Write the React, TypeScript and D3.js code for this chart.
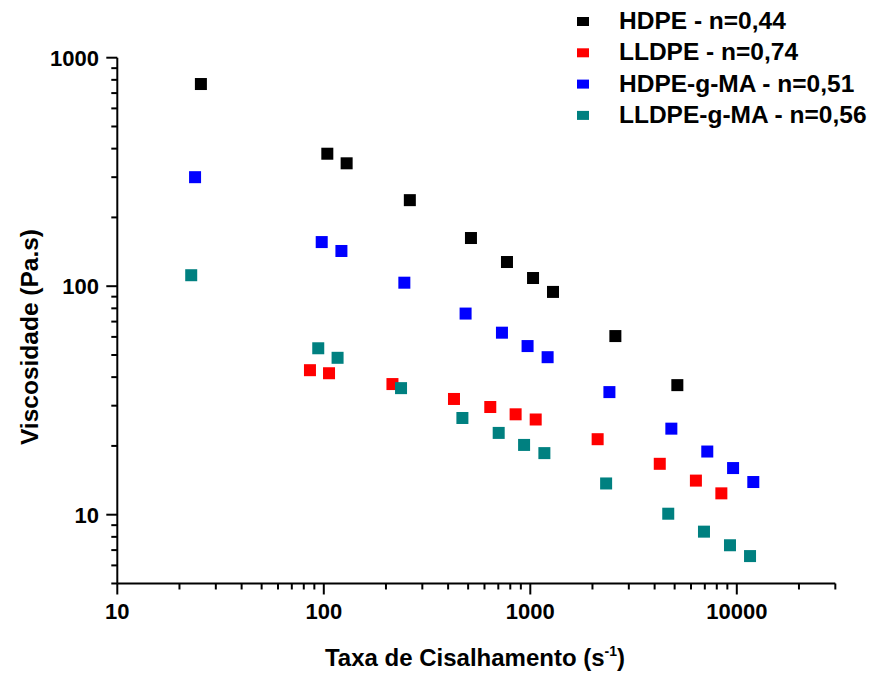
import React from "react";
import * as d3 from "d3";

const hdpeX = [25.4, 104, 129, 261, 516, 771, 1031, 1288, 2582, 5153];
const hdpeY = [767, 380, 345, 238, 162.5, 127.6, 108.6, 94.4, 60.5, 36.9];

const lldpeX = [85.7, 106, 215, 427, 640, 849, 1062, 2119, 4236, 6338, 8418];
const lldpeY = [42.9, 41.6, 37.3, 32.1, 29.6, 27.5, 26.1, 21.4, 16.7, 14.1, 12.4];

const hdpeMaX = [23.8, 97.7, 121.7, 245.5, 486, 729, 970, 1213, 2416, 4820, 7195, 9594, 12020];
const hdpeMaY = [300, 156, 142.6, 103.6, 75.9, 62.6, 54.7, 48.9, 34.4, 23.8, 18.9, 16.0, 13.9];

const lldpeMaX = [22.8, 94, 116.6, 236.6, 469, 703, 933, 1170, 2329, 4656, 6935, 9268, 11590];
const lldpeMaY = [111.7, 53.5, 48.6, 35.8, 26.5, 22.8, 20.2, 18.6, 13.7, 10.1, 8.43, 7.35, 6.59];

const seriesNames = ["HDPE - n=0,44", "LLDPE - n=0,74", "HDPE-g-MA - n=0,51", "LLDPE-g-MA - n=0,56"];
const seriesColors = ["#000000", "#ff0000", "#0000ff", "#008080"];

const xMajorTicks = [10, 100, 1000, 10000];
const yMajorTicks = [10, 100, 1000];

const xTitle = "Taxa de Cisalhamento (s";
const xTitleSup = "-1";
const yTitle = "Viscosidade (Pa.s)";

export default function App() {
  const W = 873, H = 673;
  const x0 = 117.3, dx = 206.5;
  const y0 = 57.7, dy = 228.5;
  const x = d3.scaleLog().domain([10, 30000]).range([x0, x0 + dx * Math.log10(3000)]);
  const y = d3.scaleLog().domain([5, 1000]).range([y0 + dy * Math.log10(200), y0]);

  const series = [
    { xs: hdpeX, ys: hdpeY },
    { xs: lldpeX, ys: lldpeY },
    { xs: hdpeMaX, ys: hdpeMaY },
    { xs: lldpeMaX, ys: lldpeMaY },
  ];

  const xMinor: number[] = [];
  for (const d of [10, 100, 1000, 10000]) for (let k = 2; k <= 9; k++) if (d * k <= 30000) xMinor.push(d * k);
  const yMinor: number[] = [];
  for (const d of [1, 10, 100]) for (let k = 2; k <= 9; k++) { const v = d * k; if (v >= 5 && v < 1000) yMinor.push(v); }

  const [xa, xb] = x.range();
  const [yb, ya] = y.range();
  const font = "'Liberation Sans', Arial, Helvetica, sans-serif";
  const ms = 12;

  return (
    <svg width={W} height={H} style={{ position: "absolute", left: 0, top: 0, background: "#fff" }} fontFamily={font}>
      <rect x={0} y={0} width={W} height={H} fill="#fff" />
      {/* axes */}
      <line x1={xa} x2={xb} y1={yb} y2={yb} stroke="#000" strokeWidth={2} />
      <line x1={xa} x2={xa} y1={ya} y2={yb} stroke="#000" strokeWidth={2} />
      {xMajorTicks.map((t) => (
        <g key={"xm" + t}>
          <line x1={x(t)} x2={x(t)} y1={yb} y2={yb + 11} stroke="#000" strokeWidth={2} />
          <text x={x(t)} y={619} textAnchor="middle" fontSize={22} fontWeight="bold">{t}</text>
        </g>
      ))}
      {xMinor.map((t) => (
        <line key={"xn" + t} x1={x(t)} x2={x(t)} y1={yb} y2={yb + 6} stroke="#000" strokeWidth={2} />
      ))}
      {yMajorTicks.map((t) => (
        <g key={"ym" + t}>
          <line x1={xa - 11} x2={xa} y1={y(t)} y2={y(t)} stroke="#000" strokeWidth={2} />
          <text x={99} y={y(t) + 8} textAnchor="end" fontSize={22} fontWeight="bold">{t}</text>
        </g>
      ))}
      {yMinor.map((t) => (
        <line key={"yn" + t} x1={xa - 6} x2={xa} y1={y(t)} y2={y(t)} stroke="#000" strokeWidth={2} />
      ))}
      {/* titles */}
      <text x={475} y={666} textAnchor="middle" fontSize={24} fontWeight="bold">
        {xTitle}
        <tspan fontSize={14} dy={-10}>{xTitleSup}</tspan>
        <tspan dy={10}>)</tspan>
      </text>
      <text transform={`translate(38,337) rotate(-90)`} textAnchor="middle" fontSize={24.5} fontWeight="bold">{yTitle}</text>
      {/* data */}
      {series.map((s, i) => (
        <g key={"s" + i} fill={seriesColors[i]}>
          {s.xs.map((xv, j) => (
            <rect key={j} x={x(xv) - ms / 2} y={y(s.ys[j]) - ms / 2} width={ms} height={ms} />
          ))}
        </g>
      ))}
      {/* legend */}
      {seriesNames.map((n, i) => (
        <g key={"l" + i}>
          <rect x={577} y={17 + i * 31.3} width={12} height={9} fill={seriesColors[i]} />
          <text x={619} y={28.5 + i * 31.6} fontSize={24.5} fontWeight="bold">{n}</text>
        </g>
      ))}
    </svg>
  );
}
